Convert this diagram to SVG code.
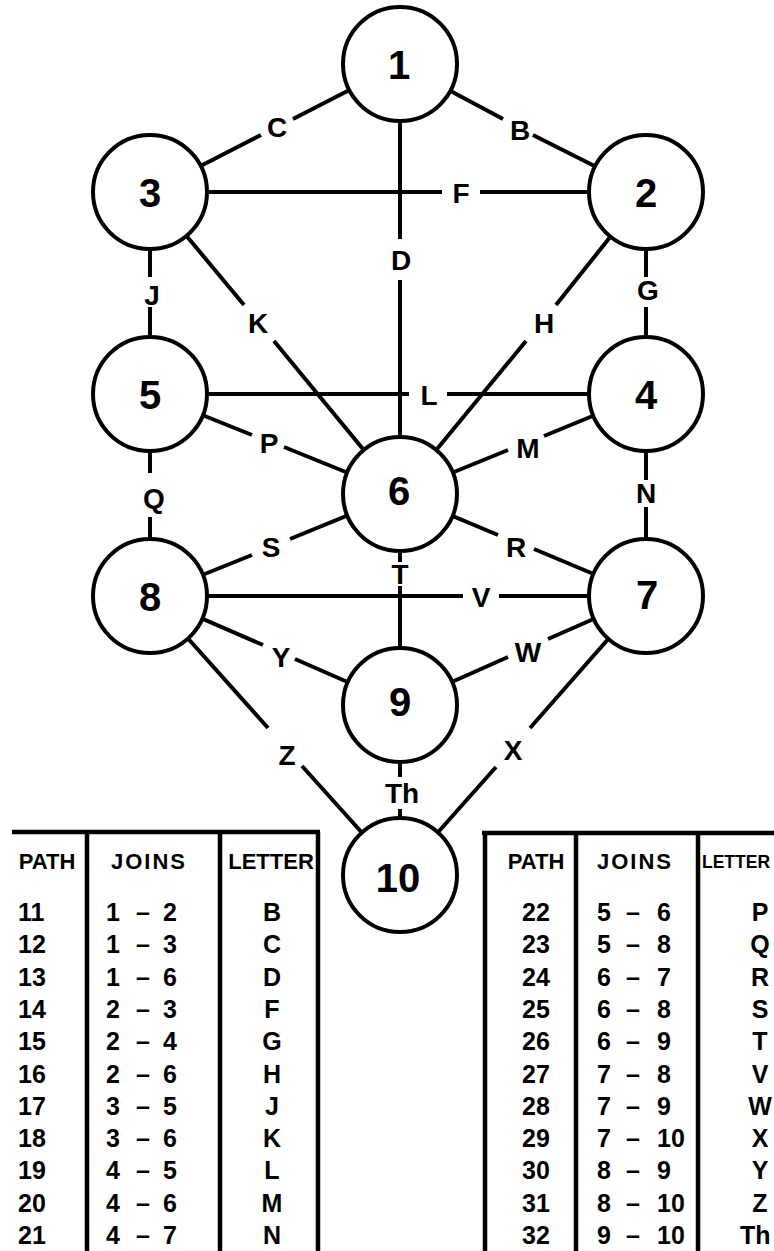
<svg xmlns="http://www.w3.org/2000/svg" width="774" height="1251" viewBox="0 0 774 1251">
<style>
.edge{stroke:#000;stroke-width:4;fill:none;stroke-linecap:butt}
.node circle{fill:#fff;stroke:#000;stroke-width:4}
.num{font-family:"Liberation Sans",Arial,sans-serif;font-weight:bold;font-size:40px;text-anchor:middle;fill:#000}
.lbl{font-family:"Liberation Sans",Arial,sans-serif;font-weight:bold;font-size:28px;text-anchor:middle;fill:#000}
.th{font-family:"Liberation Sans",Arial,sans-serif;font-weight:bold;font-size:22px;fill:#000}
.td{font-family:"Liberation Sans",Arial,sans-serif;font-weight:bold;font-size:25px;fill:#000}
.c{text-anchor:middle}
.s{text-anchor:start}
.tl{stroke:#000;stroke-width:4.5;fill:none}
</style>
<rect width="774" height="1251" fill="#fff"/>
<g id="connectors">
<path class="edge" d="M400,64L503,119M533,135L646,192"/>
<path class="edge" d="M150,192L261,135M293,119L400,64"/>
<path class="edge" d="M400,64L400,239M400,280L400,494"/>
<path class="edge" d="M150,192L442,192M480,192L646,192"/>
<path class="edge" d="M150,192L150,277M150,307L150,394"/>
<path class="edge" d="M646,192L646,277M646,307L646,394"/>
<path class="edge" d="M150,192L244,305M274,341L400,494"/>
<path class="edge" d="M646,192L556,305M526,341L400,494"/>
<path class="edge" d="M150,394L409,394M447,394L646,394"/>
<path class="edge" d="M150,394L252,435M284,447L400,494"/>
<path class="edge" d="M646,394L544,436M508,450L400,494"/>
<path class="edge" d="M150,394L150,473M150,517L150,596"/>
<path class="edge" d="M646,394L646,480M646,507L646,596"/>
<path class="edge" d="M150,596L252,555M290,539L400,494"/>
<path class="edge" d="M646,596L534,549M498,535L400,494"/>
<path class="edge" d="M400,494L400,562M400,586L400,705"/>
<path class="edge" d="M150,596L463,596M499,596L646,596"/>
<path class="edge" d="M150,596L263,645M295,659L400,705"/>
<path class="edge" d="M646,596L548,639M508,657L400,705"/>
<path class="edge" d="M150,596L268,728M302,766L400,875"/>
<path class="edge" d="M646,596L530,728M496,767L400,875"/>
<path class="edge" d="M400,705L400,777M400,809L400,875"/>
<g id="edge-labels">
<text class="lbl" x="520" y="140">B</text>
<text class="lbl" x="277" y="137">C</text>
<text class="lbl" x="401" y="270">D</text>
<text class="lbl" x="461" y="203">F</text>
<text class="lbl" x="648" y="300">G</text>
<text class="lbl" x="544" y="333">H</text>
<text class="lbl" x="152" y="305">J</text>
<text class="lbl" x="258" y="333">K</text>
<text class="lbl" x="429" y="405">L</text>
<text class="lbl" x="528" y="458">M</text>
<text class="lbl" x="646" y="503">N</text>
<text class="lbl" x="269" y="453">P</text>
<text class="lbl" x="154" y="508">Q</text>
<text class="lbl" x="516" y="557">R</text>
<text class="lbl" x="271" y="557">S</text>
<text class="lbl" x="400" y="584">T</text>
<text class="lbl" x="481" y="607">V</text>
<text class="lbl" x="528" y="662">W</text>
<text class="lbl" x="513" y="760">X</text>
<text class="lbl" x="281" y="667">Y</text>
<text class="lbl" x="287" y="765">Z</text>
<text class="lbl" x="402" y="803">Th</text>
</g>
</g>
<g id="n1" class="node"><circle cx="400" cy="64" r="57"/><text class="num" x="399" y="79">1</text></g>
<g id="n2" class="node"><circle cx="646" cy="192" r="57"/><text class="num" x="646" y="207">2</text></g>
<g id="n3" class="node"><circle cx="150" cy="192" r="57"/><text class="num" x="150" y="207">3</text></g>
<g id="n4" class="node"><circle cx="646" cy="394" r="57"/><text class="num" x="646" y="409">4</text></g>
<g id="n5" class="node"><circle cx="150" cy="394" r="57"/><text class="num" x="150" y="409">5</text></g>
<g id="n6" class="node"><circle cx="400" cy="494" r="57"/><text class="num" x="399" y="505">6</text></g>
<g id="n7" class="node"><circle cx="646" cy="596" r="57"/><text class="num" x="647" y="609">7</text></g>
<g id="n8" class="node"><circle cx="150" cy="596" r="57"/><text class="num" x="150" y="611">8</text></g>
<g id="n9" class="node"><circle cx="400" cy="705" r="57"/><text class="num" x="400" y="716">9</text></g>
<g id="n10" class="node"><circle cx="400" cy="875" r="57"/><text class="num" x="398" y="892">10</text></g>
<g id="table-left">
<path class="tl" d="M12,832L320,832M87,832L87,1251M220,832L220,1251M318,832L318,1251"/>
<text class="th c" x="47" y="869">PATH</text>
<text class="th c" x="149" y="869" letter-spacing="2">JOINS</text>
<text class="th c" x="271" y="869">LETTER</text>
<g class="td">
<text class="s" x="18" y="921">11</text><text class="c" x="113" y="921">1</text><text class="c" x="143" y="921">–</text><text class="s" x="163" y="921">2</text><text class="c" x="272" y="921">B</text>
<text class="s" x="18" y="953">12</text><text class="c" x="113" y="953">1</text><text class="c" x="143" y="953">–</text><text class="s" x="163" y="953">3</text><text class="c" x="272" y="953">C</text>
<text class="s" x="18" y="986">13</text><text class="c" x="113" y="986">1</text><text class="c" x="143" y="986">–</text><text class="s" x="163" y="986">6</text><text class="c" x="272" y="986">D</text>
<text class="s" x="18" y="1018">14</text><text class="c" x="113" y="1018">2</text><text class="c" x="143" y="1018">–</text><text class="s" x="163" y="1018">3</text><text class="c" x="272" y="1018">F</text>
<text class="s" x="18" y="1050">15</text><text class="c" x="113" y="1050">2</text><text class="c" x="143" y="1050">–</text><text class="s" x="163" y="1050">4</text><text class="c" x="272" y="1050">G</text>
<text class="s" x="18" y="1083">16</text><text class="c" x="113" y="1083">2</text><text class="c" x="143" y="1083">–</text><text class="s" x="163" y="1083">6</text><text class="c" x="272" y="1083">H</text>
<text class="s" x="18" y="1115">17</text><text class="c" x="113" y="1115">3</text><text class="c" x="143" y="1115">–</text><text class="s" x="163" y="1115">5</text><text class="c" x="272" y="1115">J</text>
<text class="s" x="18" y="1147">18</text><text class="c" x="113" y="1147">3</text><text class="c" x="143" y="1147">–</text><text class="s" x="163" y="1147">6</text><text class="c" x="272" y="1147">K</text>
<text class="s" x="18" y="1179">19</text><text class="c" x="113" y="1179">4</text><text class="c" x="143" y="1179">–</text><text class="s" x="163" y="1179">5</text><text class="c" x="272" y="1179">L</text>
<text class="s" x="18" y="1212">20</text><text class="c" x="113" y="1212">4</text><text class="c" x="143" y="1212">–</text><text class="s" x="163" y="1212">6</text><text class="c" x="272" y="1212">M</text>
<text class="s" x="18" y="1244">21</text><text class="c" x="113" y="1244">4</text><text class="c" x="143" y="1244">–</text><text class="s" x="163" y="1244">7</text><text class="c" x="272" y="1244">N</text>
</g>
</g>
<g id="table-right">
<path class="tl" d="M482,833L774,833M485,833L485,1251M576,833L576,1251M698,833L698,1251"/>
<text class="th c" x="536" y="869">PATH</text>
<text class="th c" x="635" y="869" letter-spacing="2">JOINS</text>
<text class="th s" x="702" y="868" style="font-size:17.5px">LETTER</text>
<g class="td">
<text class="c" x="536" y="921">22</text><text class="c" x="604" y="921">5</text><text class="c" x="633" y="921">–</text><text class="s" x="657" y="921">6</text><text class="c" x="760" y="921">P</text>
<text class="c" x="536" y="953">23</text><text class="c" x="604" y="953">5</text><text class="c" x="633" y="953">–</text><text class="s" x="657" y="953">8</text><text class="c" x="760" y="953">Q</text>
<text class="c" x="536" y="986">24</text><text class="c" x="604" y="986">6</text><text class="c" x="633" y="986">–</text><text class="s" x="657" y="986">7</text><text class="c" x="760" y="986">R</text>
<text class="c" x="536" y="1018">25</text><text class="c" x="604" y="1018">6</text><text class="c" x="633" y="1018">–</text><text class="s" x="657" y="1018">8</text><text class="c" x="760" y="1018">S</text>
<text class="c" x="536" y="1050">26</text><text class="c" x="604" y="1050">6</text><text class="c" x="633" y="1050">–</text><text class="s" x="657" y="1050">9</text><text class="c" x="760" y="1050">T</text>
<text class="c" x="536" y="1083">27</text><text class="c" x="604" y="1083">7</text><text class="c" x="633" y="1083">–</text><text class="s" x="657" y="1083">8</text><text class="c" x="760" y="1083">V</text>
<text class="c" x="536" y="1115">28</text><text class="c" x="604" y="1115">7</text><text class="c" x="633" y="1115">–</text><text class="s" x="657" y="1115">9</text><text class="c" x="760" y="1115">W</text>
<text class="c" x="536" y="1147">29</text><text class="c" x="604" y="1147">7</text><text class="c" x="633" y="1147">–</text><text class="s" x="657" y="1147">10</text><text class="c" x="760" y="1147">X</text>
<text class="c" x="536" y="1179">30</text><text class="c" x="604" y="1179">8</text><text class="c" x="633" y="1179">–</text><text class="s" x="657" y="1179">9</text><text class="c" x="760" y="1179">Y</text>
<text class="c" x="536" y="1212">31</text><text class="c" x="604" y="1212">8</text><text class="c" x="633" y="1212">–</text><text class="s" x="657" y="1212">10</text><text class="c" x="760" y="1212">Z</text>
<text class="c" x="536" y="1244">32</text><text class="c" x="604" y="1244">9</text><text class="c" x="633" y="1244">–</text><text class="s" x="657" y="1244">10</text><text class="s" x="740" y="1244">Th</text>
</g>
</g>
</svg>
